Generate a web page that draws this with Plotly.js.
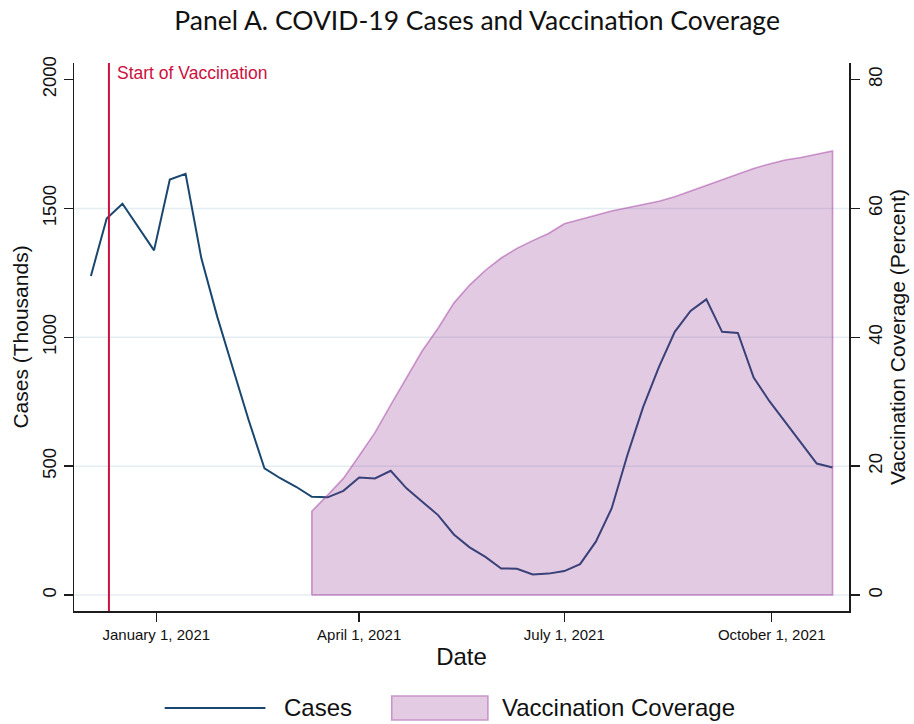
<!DOCTYPE html>
<html>
<head>
<meta charset="utf-8">
<script src="https://cdn.plot.ly/plotly-3.0.1.min.js"></script>
<style>html,body{margin:0;padding:0;background:#fff;}#chart{width:914px;height:724px;}</style>
</head>
<body>
<div id="chart"></div>
<script>
// Weekly dates (Thursdays)
const caseDates = [
  "2020-12-03","2020-12-10","2020-12-17","2020-12-31","2021-01-07","2021-01-14","2021-01-21",
  "2021-01-28","2021-02-04","2021-02-11","2021-02-18","2021-02-25","2021-03-04","2021-03-11",
  "2021-03-18","2021-03-25","2021-04-01","2021-04-08","2021-04-15","2021-04-22","2021-04-29",
  "2021-05-06","2021-05-13","2021-05-20","2021-05-27","2021-06-03","2021-06-10","2021-06-17",
  "2021-06-24","2021-07-01","2021-07-08","2021-07-15","2021-07-22","2021-07-29","2021-08-05",
  "2021-08-12","2021-08-19","2021-08-26","2021-09-02","2021-09-09","2021-09-16","2021-09-23",
  "2021-09-30","2021-10-07","2021-10-14","2021-10-21","2021-10-28"
];
const casesThousands = [
  1238,1461,1518,1337,1612,1634,1306,
  1081,879,678,491,453,420,381,
  379,404,456,452,482,414,362,
  310,235,185,148,103,102,80,
  83,93,120,207,336,543,730,
  885,1021,1102,1147,1021,1017,844,
  752,672,588,510,495
];
const vaxDates = [
  "2021-03-11","2021-03-18","2021-03-25","2021-04-01","2021-04-08","2021-04-15","2021-04-22",
  "2021-04-29","2021-05-06","2021-05-13","2021-05-20","2021-05-27","2021-06-03","2021-06-10",
  "2021-06-17","2021-06-24","2021-07-01","2021-07-08","2021-07-15","2021-07-22","2021-07-29",
  "2021-08-05","2021-08-12","2021-08-19","2021-08-26","2021-09-02","2021-09-09","2021-09-16",
  "2021-09-23","2021-09-30","2021-10-07","2021-10-14","2021-10-21","2021-10-28"
];
const vaxPercent = [
  13.0,15.5,18.1,21.6,25.2,29.5,33.8,
  37.9,41.4,45.3,48.1,50.4,52.3,53.8,
  55.0,56.1,57.6,58.3,59.0,59.6,60.1,
  60.6,61.1,61.8,62.7,63.6,64.5,65.4,
  66.2,66.9,67.5,67.9,68.4,68.9
];
const vaccinationStart = "2020-12-11";
const xTickVals = ["2021-01-01","2021-04-01","2021-07-01","2021-10-01"];
const xTickText = ["January 1, 2021","April 1, 2021","July 1, 2021","October 1, 2021"];
const yLeftTicks = [0,500,1000,1500,2000];
const yRightTicks = [0,20,40,60,80];
const gridVals = [0,500,1000,1500];

const PURPLE_FILL = "rgba(146,51,147,0.26)";
const PURPLE_LINE = "rgba(160,60,160,0.5)";
const NAVY = "#1a476f";
const RED = "#cc1040";
const AX = "#1c1c1c";

// closed polygon for the coverage area (built from the data arrays)
const vx = [vaxDates[0]].concat(vaxDates, [vaxDates[vaxDates.length-1], vaxDates[0]]);
const vy = [0].concat(vaxPercent, [0, 0]);

const traces = [
  {x: caseDates, y: casesThousands, type: "scatter", mode: "lines", name: "Cases",
   line: {color: NAVY, width: 2}, xaxis: "x", yaxis: "y", showlegend: false},
  {x: vx, y: vy, type: "scatter", mode: "lines", name: "Vaccination Coverage",
   fill: "toself", fillcolor: PURPLE_FILL, line: {color: PURPLE_LINE, width: 1.6},
   xaxis: "x", yaxis: "y2", showlegend: false}
];

const shapes = gridVals.map(v => ({type: "line", xref: "paper", x0: 0, x1: 1, yref: "y", y0: v, y1: v,
  line: {color: "#e4edf1", width: 1.5}, layer: "below"}));
shapes.push({type: "line", xref: "x", x0: vaccinationStart, x1: vaccinationStart, yref: "paper", y0: 0, y1: 1,
  line: {color: RED, width: 2}, layer: "above"});
// manual legend symbols
shapes.push({type: "line", xref: "paper", yref: "paper", x0: 0.117, x1: 0.247, y0: -0.177, y1: -0.177,
  line: {color: NAVY, width: 2}});
shapes.push({type: "rect", xref: "paper", yref: "paper", x0: 0.410, x1: 0.534, y0: -0.155, y1: -0.199,
  fillcolor: "#e2cbe3", line: {color: "#c996c8", width: 1.6}});

const annotations = [
  {xref: "x", yref: "paper", x: vaccinationStart, y: 0.982, xanchor: "left", yanchor: "middle", xshift: 6,
   text: "Start of Vaccination", showarrow: false, font: {family: "Liberation Sans, Arial", size: 17.5, color: RED}},
  {xref: "paper", yref: "paper", x: 0.268, y: -0.177, xanchor: "left", yanchor: "middle",
   text: "Cases", showarrow: false, font: {family: "Liberation Sans, Arial", size: 24, color: "#111"}},
  {xref: "paper", yref: "paper", x: 0.550, y: -0.177, xanchor: "left", yanchor: "middle",
   text: "Vaccination Coverage", showarrow: false, font: {family: "Liberation Sans, Arial", size: 24, color: "#111"}}
];

const layout = {
  width: 914, height: 724,
  margin: {l: 74, r: 65, t: 63, b: 113},
  paper_bgcolor: "#fff", plot_bgcolor: "#fff",
  font: {family: "Liberation Sans, Arial", color: "#111"},
  title: {text: "Panel A. COVID-19 Cases and Vaccination Coverage", x: 0.522, xref: "container", xanchor: "center",
          y: 0.972, yanchor: "middle", font: {family: "Lato", size: 26.5, color: "#111"}},
  showlegend: false,
  xaxis: {type: "date", range: ["2020-11-25 12:00", "2021-11-04 07:00"],
    tickvals: xTickVals, ticktext: xTickText, tickangle: 0,
    ticks: "outside", ticklen: 9, tickwidth: 1.5, tickcolor: AX,
    showline: true, linecolor: AX, linewidth: 1.5, showgrid: false, zeroline: false,
    tickfont: {size: 15, color: "#111"},
    title: {text: "Date", font: {size: 24, color: "#111"}, standoff: 6}},
  yaxis: {range: [-62, 2064], tickvals: yLeftTicks, ticktext: yLeftTicks.map(String), tickangle: -90,
    ticks: "outside", ticklen: 9, tickwidth: 1.5, tickcolor: AX,
    showline: true, linecolor: AX, linewidth: 1.5, showgrid: false, zeroline: false,
    tickfont: {size: 18.5, color: "#111"},
    title: {text: "Cases (Thousands)", font: {size: 21, color: "#111"}, standoff: 4}},
  yaxis2: {range: [-2.48, 82.56], overlaying: "y", side: "right", tickvals: yRightTicks,
    ticktext: yRightTicks.map(String), tickangle: -90,
    ticks: "outside", ticklen: 9, tickwidth: 1.5, tickcolor: AX,
    showline: true, linecolor: AX, linewidth: 1.5, showgrid: false, zeroline: false,
    tickfont: {size: 18.5, color: "#111"},
    title: {text: "Vaccination Coverage (Percent)", font: {size: 21, color: "#111"}, standoff: 5}},
  shapes: shapes,
  annotations: annotations
};

Plotly.newPlot("chart", traces, layout, {displayModeBar: false, staticPlot: true});
</script>
</body>
</html>
